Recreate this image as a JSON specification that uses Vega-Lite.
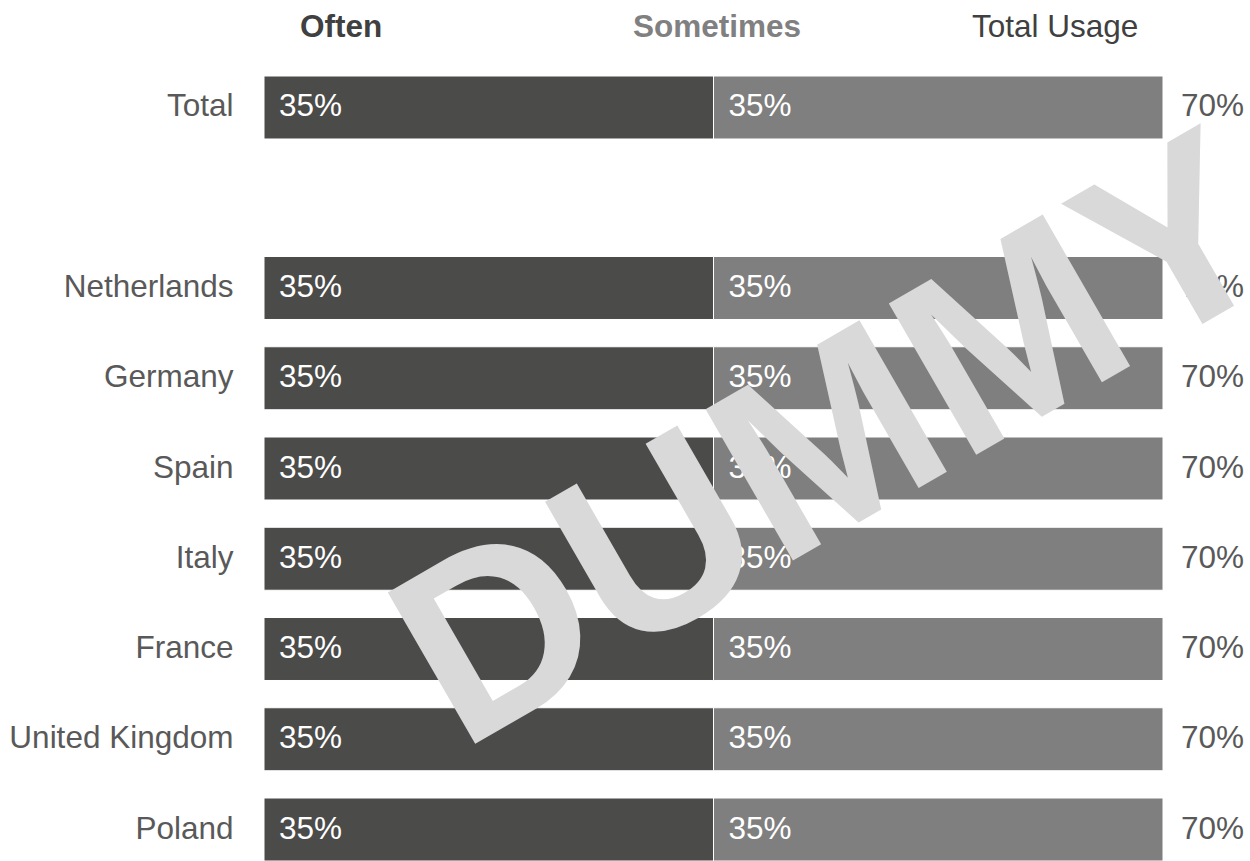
{
  "$schema": "https://vega.github.io/schema/vega-lite/v6.json",
  "width": 899,
  "height": 785,
  "autosize": {"type": "none"},
  "padding": {"left": 264, "top": 76, "right": 87, "bottom": 0},
  "background": "white",
  "config": {
    "view": {"stroke": null},
    "font": "Liberation Sans",
    "text": {"font": "Liberation Sans"}
  },
  "datasets": {
    "parts": [
      {"country": "Total", "type": "Often", "value": 0.35},
      {"country": "Total", "type": "Sometimes", "value": 0.35},
      {"country": "Netherlands", "type": "Often", "value": 0.35},
      {"country": "Netherlands", "type": "Sometimes", "value": 0.35},
      {"country": "Germany", "type": "Often", "value": 0.35},
      {"country": "Germany", "type": "Sometimes", "value": 0.35},
      {"country": "Spain", "type": "Often", "value": 0.35},
      {"country": "Spain", "type": "Sometimes", "value": 0.35},
      {"country": "Italy", "type": "Often", "value": 0.35},
      {"country": "Italy", "type": "Sometimes", "value": 0.35},
      {"country": "France", "type": "Often", "value": 0.35},
      {"country": "France", "type": "Sometimes", "value": 0.35},
      {"country": "United Kingdom", "type": "Often", "value": 0.35},
      {"country": "United Kingdom", "type": "Sometimes", "value": 0.35},
      {"country": "Poland", "type": "Often", "value": 0.35},
      {"country": "Poland", "type": "Sometimes", "value": 0.35}
    ],
    "totals": [
      {"country": "Total", "total": 0.70},
      {"country": "Netherlands", "total": 0.70},
      {"country": "Germany", "total": 0.70},
      {"country": "Spain", "total": 0.70},
      {"country": "Italy", "total": 0.70},
      {"country": "France", "total": 0.70},
      {"country": "United Kingdom", "total": 0.70},
      {"country": "Poland", "total": 0.70}
    ]
  },
  "encoding": {
    "y": {
      "field": "country",
      "type": "nominal",
      "scale": {
        "domain": ["Total", "gap", "Netherlands", "Germany", "Spain", "Italy", "France", "United Kingdom", "Poland"],
        "paddingInner": 0.302,
        "paddingOuter": 0
      },
      "axis": {
        "title": null,
        "domain": false,
        "ticks": false,
        "labelExpr": "datum.value == 'gap' ? '' : datum.value",
        "labelFontSize": 31.5,
        "labelColor": "#595959",
        "labelPadding": 31,
        "labelLimit": 500,
        "labelFont": "Liberation Sans"
      }
    }
  },
  "layer": [
    {
      "data": {"name": "parts"},
      "transform": [
        {"stack": "value", "groupby": ["country"], "sort": [{"field": "type", "order": "ascending"}], "as": ["s0", "s1"]}
      ],
      "mark": {"type": "bar", "stroke": "white", "strokeWidth": 1},
      "encoding": {
        "x": {"field": "s0", "type": "quantitative", "scale": {"domain": [0, 0.7], "nice": false}, "axis": null},
        "x2": {"field": "s1"},
        "color": {
          "field": "type",
          "type": "nominal",
          "scale": {"domain": ["Often", "Sometimes"], "range": ["#4b4b4a", "#7f7f7f"]},
          "legend": null
        }
      }
    },
    {
      "data": {"name": "parts"},
      "transform": [
        {"stack": "value", "groupby": ["country"], "sort": [{"field": "type", "order": "ascending"}], "as": ["s0", "s1"]}
      ],
      "mark": {"type": "text", "align": "left", "baseline": "middle", "dx": 15, "fontSize": 31.5, "color": "white"},
      "encoding": {
        "x": {"field": "s0", "type": "quantitative"},
        "text": {"field": "value", "type": "quantitative", "format": ".0%"}
      }
    },
    {
      "data": {"name": "totals"},
      "mark": {"type": "text", "align": "left", "baseline": "middle", "dx": 18, "fontSize": 31.5, "color": "#595959"},
      "encoding": {
        "x": {"field": "total", "type": "quantitative"},
        "text": {"field": "total", "type": "quantitative", "format": ".0%"}
      }
    },
    {
      "data": {"values": [{"label": "Often"}]},
      "mark": {"type": "text", "align": "center", "baseline": "middle", "fontSize": 31.5, "fontWeight": "bold", "color": "#404040", "yOffset": -79},
      "encoding": {
        "x": {"datum": 0.060, "type": "quantitative"},
        "y": {"datum": "Total"},
        "text": {"field": "label"}
      }
    },
    {
      "data": {"values": [{"label": "Sometimes"}]},
      "mark": {"type": "text", "align": "center", "baseline": "middle", "fontSize": 31.5, "fontWeight": "bold", "color": "#808080", "yOffset": -79},
      "encoding": {
        "x": {"datum": 0.3527, "type": "quantitative"},
        "y": {"datum": "Total"},
        "text": {"field": "label"}
      }
    },
    {
      "data": {"values": [{"label": "Total Usage"}]},
      "mark": {"type": "text", "align": "center", "baseline": "middle", "fontSize": 31.5, "color": "#404040", "yOffset": -79},
      "encoding": {
        "x": {"datum": 0.616, "type": "quantitative"},
        "y": {"datum": "Total"},
        "text": {"field": "label"}
      }
    },
    {
      "data": {"values": [{"label": "DUMMY"}]},
      "mark": {"type": "text", "align": "center", "baseline": "alphabetic", "fontSize": 254, "fontWeight": "bold", "color": "#d9d9d9", "angle": 330, "yOffset": 44},
      "encoding": {
        "x": {"datum": 0.4765, "type": "quantitative"},
        "y": {"datum": "Spain"},
        "text": {"field": "label"}
      }
    }
  ]
}
